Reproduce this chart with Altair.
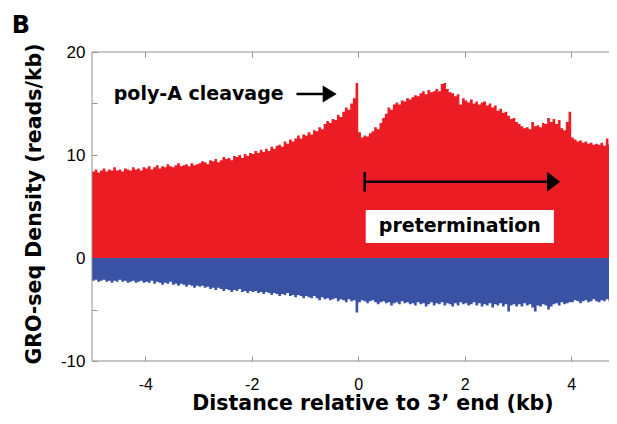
import altair as alt
import pandas as pd

# ---- data, 0.05 kb bins starting at -5 kb ----
bin_width = 0.05
x_start = -5.0

sense_m5 = [8.4, 8.6, 8.3, 8.5, 8.7, 8.4, 8.6, 8.5, 8.8, 8.5, 8.6, 8.4, 8.7, 8.6, 8.5, 8.8, 8.6, 8.7, 8.5, 8.8]
sense_m4 = [8.7, 8.9, 8.6, 8.8, 9.0, 8.7, 8.9, 8.8, 9.1, 8.9, 8.8, 9.0, 9.2, 8.9, 9.0, 9.1, 8.9, 9.2, 9.0, 9.1]
sense_m3 = [9.2, 9.4, 9.3, 9.1, 9.5, 9.4, 9.6, 9.3, 9.5, 9.8, 9.6, 9.7, 9.5, 9.9, 9.8, 10.0, 9.7, 10.1, 9.9, 10.2]
sense_m2 = [10.1, 10.4, 10.2, 10.5, 10.3, 10.6, 10.4, 10.8, 10.6, 10.9, 11.0, 10.8, 11.3, 11.1, 11.5, 11.3, 11.6, 11.9, 11.6, 12.0]
sense_m1 = [11.9, 12.2, 12.0, 12.4, 12.3, 12.7, 12.5, 13.0, 13.3, 13.1, 13.5, 13.4, 13.9, 13.7, 14.2, 14.6, 14.4, 15.0, 15.5, 17.0]
sense_p0 = [12.2, 11.7, 11.9, 11.8, 12.1, 12.3, 12.7, 12.5, 13.1, 13.6, 14.0, 14.6, 14.4, 14.9, 15.1, 14.9, 15.3, 15.2, 15.5, 15.4]
sense_p1 = [15.6, 15.8, 15.7, 16.0, 16.2, 15.9, 16.3, 16.1, 16.2, 16.4, 16.2, 16.9, 17.0, 16.4, 16.1, 16.0, 15.7, 15.9, 14.9, 15.5]
sense_p2 = [15.3, 15.1, 15.4, 15.0, 15.2, 14.9, 15.1, 15.2, 14.8, 15.0, 14.6, 14.8, 14.3, 14.5, 14.1, 14.2, 13.8, 13.5, 13.6, 13.2]
sense_p3 = [13.0, 12.8, 12.6, 12.7, 12.5, 13.2, 12.8, 12.9, 12.7, 13.1, 13.0, 13.6, 13.2, 13.5, 13.0, 13.4, 12.6, 12.4, 13.2, 14.2]
sense_p4 = [11.7, 11.5, 11.3, 11.4, 11.2, 11.3, 11.1, 11.2, 11.0, 11.1, 11.0, 11.2, 10.9, 11.6, 11.0, 10.9, 10.8, 10.7, 10.8, 10.7]

anti_m5 = [-2.2, -2.1, -2.3, -2.2, -2.1, -2.3, -2.2, -2.4, -2.2, -2.3, -2.1, -2.3, -2.2, -2.4, -2.3, -2.2, -2.4, -2.3, -2.2, -2.4]
anti_m4 = [-2.3, -2.4, -2.2, -2.5, -2.3, -2.4, -2.6, -2.4, -2.5, -2.3, -2.6, -2.5, -2.7, -2.5, -2.6, -2.8, -2.6, -2.7, -2.9, -2.7]
anti_m3 = [-2.8, -2.7, -2.9, -2.8, -3.0, -2.9, -3.1, -2.9, -3.0, -3.2, -3.0, -3.1, -3.3, -3.1, -3.2, -3.0, -3.3, -3.2, -3.4, -3.2]
anti_m2 = [-3.3, -3.2, -3.4, -3.3, -3.5, -3.3, -3.4, -3.6, -3.4, -3.5, -3.7, -3.5, -3.6, -3.4, -3.7, -3.6, -3.8, -3.6, -3.7, -3.9]
anti_m1 = [-3.7, -3.8, -3.9, -3.7, -3.9, -4.1, -3.8, -4.0, -3.9, -4.1, -4.0, -3.9, -4.2, -4.0, -4.1, -4.3, -4.0, -4.2, -4.1, -5.3]
anti_p0 = [-4.3, -4.1, -4.2, -4.4, -4.2, -4.1, -4.3, -4.5, -4.3, -4.2, -4.4, -4.3, -4.6, -4.4, -4.3, -4.5, -4.2, -4.4, -4.3, -4.5]
anti_p1 = [-4.4, -4.6, -4.3, -4.5, -4.4, -4.7, -4.5, -4.3, -4.6, -4.4, -4.5, -4.3, -4.6, -4.4, -4.5, -4.7, -4.4, -4.6, -4.3, -4.5]
anti_p2 = [-4.4, -4.6, -4.5, -4.3, -4.6, -4.4, -4.7, -4.5, -4.6, -4.4, -4.8, -4.5, -4.6, -4.4, -4.7, -4.5, -5.2, -4.6, -4.5, -4.7]
anti_p3 = [-4.5, -4.7, -4.4, -4.6, -4.5, -4.8, -5.2, -4.6, -4.7, -4.5, -4.6, -5.0, -4.7, -4.5, -4.4, -4.6, -4.3, -4.5, -4.4, -4.3]
anti_p4 = [-4.3, -4.1, -4.2, -4.4, -4.2, -4.1, -4.3, -4.2, -4.0, -4.2, -4.3, -4.1, -4.2, -4.0, -4.2, -4.1, -4.3, -4.1, -4.2, -4.0]

x_ticks = [-4, -2, 0, 2, 4]
y_ticks = [-10, -5, 0, 5, 10, 15, 20]

sense = (sense_m5 + sense_m4 + sense_m3 + sense_m2 + sense_m1 +
         sense_p0 + sense_p1 + sense_p2 + sense_p3 + sense_p4)
anti = (anti_m5 + anti_m4 + anti_m3 + anti_m2 + anti_m1 +
        anti_p0 + anti_p1 + anti_p2 + anti_p3 + anti_p4)

n = len(sense)
edges = [round(x_start + i * bin_width, 4) for i in range(n + 1)]
df = pd.DataFrame({
    "x": edges,
    "sense": sense + [sense[-1]],
    "anti": anti + [anti[-1]],
})

RED = "#EC1C24"
BLUE = "#3A52A3"
GRAY = "#8f8f8f"
TFONT = "DejaVu Sans"
LFONT = "Liberation Sans"

W, H = 517, 309
xs = alt.Scale(domain=[-5, 4.71], nice=False, zero=False)
ys = alt.Scale(domain=[-10, 20], nice=False, zero=False)

neg_label = "datum.value < 0 ? '-' + abs(datum.value) : '' + datum.value"

x_bottom = alt.Axis(orient="bottom", values=x_ticks, offset=-5, tickSize=5,
                    domain=False, grid=False, labelExpr=neg_label,
                    labelFont=LFONT, labelFontSize=16, labelColor="black",
                    labelPadding=15, labelFlush=False, labelOverlap=False,
                    tickColor=GRAY, title=None)
x_top = alt.Axis(orient="top", values=x_ticks, offset=-5, tickSize=5,
                 domain=False, grid=False, labels=False, title=None,
                 tickColor=GRAY)
y_left = alt.Axis(orient="left", values=y_ticks, offset=-5, tickSize=5,
                  domain=False, grid=False,
                  labelExpr="datum.value % 10 == 0 ? (" + neg_label + ") : ''",
                  labelFont=LFONT, labelFontSize=17, labelColor="black",
                  labelPadding=7, labelOverlap=False, tickColor=GRAY,
                  title=None)

base = alt.Chart(df)
red = base.mark_area(interpolate="step-after", color=RED, clip=True).encode(
    x=alt.X("x:Q", scale=xs, axis=x_bottom),
    y=alt.Y("sense:Q", scale=ys, axis=y_left),
    y2=alt.datum(0),
)
blue = base.mark_area(interpolate="step-after", color=BLUE, clip=True).encode(
    x=alt.X("x:Q", scale=xs, axis=x_top),
    y=alt.Y("anti:Q", scale=ys, axis=None),
    y2=alt.datum(0),
)

one = pd.DataFrame({"k": [0]})

# frame (left, top, bottom; the right side runs off the picture)
frame_left = alt.Chart(one).mark_rule(color=GRAY, strokeWidth=1).encode(
    x=alt.value(0), y=alt.value(0), y2=alt.value(H))
frame_top = alt.Chart(one).mark_rule(color=GRAY, strokeWidth=1).encode(
    x=alt.value(0), x2=alt.value(W), y=alt.value(0))
frame_bottom = alt.Chart(one).mark_rule(color=GRAY, strokeWidth=1).encode(
    x=alt.value(0), x2=alt.value(W), y=alt.value(H))

# ---- annotations ----
polya = pd.DataFrame({"x": [-1.40], "y": [15.92], "t": ["poly-A cleavage"]})
polya_text = alt.Chart(polya).mark_text(
    font=TFONT, fontSize=19, fontWeight="bold", align="right", baseline="middle",
    color="black").encode(
    x=alt.X("x:Q", scale=xs, axis=None), y=alt.Y("y:Q", scale=ys, axis=None), text="t:N")

shafts = pd.DataFrame({"x": [-1.16, 0.122], "x2": [-0.55, 3.60], "y": [15.92, 7.41]})
shaft_rules = alt.Chart(shafts).mark_rule(color="black", strokeWidth=2.5).encode(
    x=alt.X("x:Q", scale=xs, axis=None), x2="x2:Q",
    y=alt.Y("y:Q", scale=ys, axis=None))

bar = pd.DataFrame({"x": [0.122], "y": [6.45], "y2": [8.35]})
bar_rule = alt.Chart(bar).mark_rule(color="black", strokeWidth=2.5).encode(
    x=alt.X("x:Q", scale=xs, axis=None),
    y=alt.Y("y:Q", scale=ys, axis=None), y2="y2:Q")

head1 = pd.DataFrame({"x": [-0.404], "y": [15.92]})
head1_pt = alt.Chart(head1).mark_point(
    shape="M -1.65 -1 L 0 0 L -1.65 1 Z", size=289, filled=True, color="black",
    opacity=1).encode(
    x=alt.X("x:Q", scale=xs, axis=None), y=alt.Y("y:Q", scale=ys, axis=None))

head2 = pd.DataFrame({"x": [3.79], "y": [7.41]})
head2_pt = alt.Chart(head2).mark_point(
    shape="M -1.3 -1 L 0 0 L -1.3 1 Z", size=400, filled=True, color="black",
    opacity=1).encode(
    x=alt.X("x:Q", scale=xs, axis=None), y=alt.Y("y:Q", scale=ys, axis=None))

box = pd.DataFrame({"x": [0.141], "x2": [3.675], "y": [1.46], "y2": [4.66]})
box_rect = alt.Chart(box).mark_rect(color="white").encode(
    x=alt.X("x:Q", scale=xs, axis=None), x2="x2:Q",
    y=alt.Y("y:Q", scale=ys, axis=None), y2="y2:Q")

pre = pd.DataFrame({"x": [1.908], "y": [3.06], "t": ["pretermination"]})
pre_text = alt.Chart(pre).mark_text(
    font=TFONT, fontSize=19, fontWeight="bold", align="center", baseline="middle",
    color="black").encode(
    x=alt.X("x:Q", scale=xs, axis=None), y=alt.Y("y:Q", scale=ys, axis=None), text="t:N")

# panel letter and axis titles, placed relative to the plot area
panel_text = alt.Chart(pd.DataFrame({"t": ["B"]})).mark_text(
    font=TFONT, fontSize=24, fontWeight="bold", align="center", baseline="middle",
    color="black").encode(x=alt.value(-71), y=alt.value(-26), text="t:N")

x_title = alt.Chart(pd.DataFrame({"t": ["Distance relative to 3\u2019 end (kb)"]})).mark_text(
    font=TFONT, fontSize=20.5, fontWeight="bold", align="center", baseline="alphabetic",
    color="black").encode(x=alt.value(281), y=alt.value(358), text="t:N")

y_title = alt.Chart(pd.DataFrame({"t": ["GRO-seq Density (reads/kb)"]})).mark_text(
    font=TFONT, fontSize=20.5, fontWeight="bold", align="center", baseline="middle",
    angle=270, color="black").encode(x=alt.value(-57), y=alt.value(152), text="t:N")

chart = alt.layer(
    red, blue, frame_left, frame_top, frame_bottom, box_rect, polya_text,
    shaft_rules, bar_rule, head1_pt, head2_pt, pre_text, panel_text,
    x_title, y_title
).resolve_axis(x="independent", y="independent").properties(
    width=W, height=H,
    padding={"left": 84, "top": 44, "right": 0, "bottom": 55},
    autosize=alt.AutoSizeParams(type="none"),
    background="white",
).configure_view(stroke=None)

chart.save("out.html", embed_options={"renderer": "svg", "actions": False})
